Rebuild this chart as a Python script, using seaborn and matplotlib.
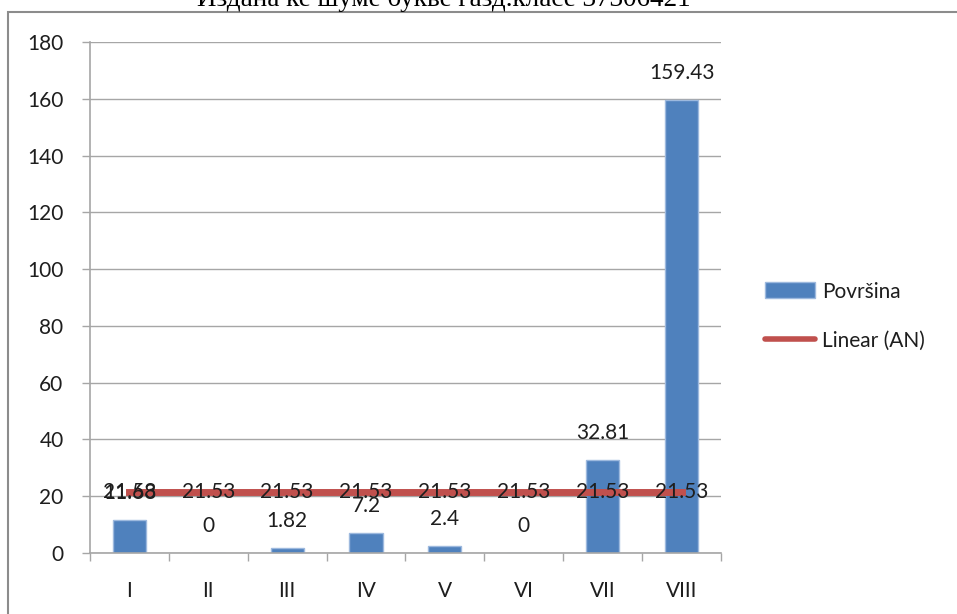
import matplotlib
matplotlib.use("Agg")
import matplotlib.pyplot as plt
from matplotlib.lines import Line2D
from matplotlib.patches import Patch, Rectangle
import seaborn as sns
import pandas as pd

# Area per management class and the linear trend of AN
categories = ["I", "II", "III", "IV", "V", "VI", "VII", "VIII"]
povrsina = [11.68, 0, 1.82, 7.2, 2.4, 0, 32.81, 159.43]
linear_an = [21.53, 21.53, 21.53, 21.53, 21.53, 21.53, 21.53, 21.53]
y_ticks = [0, 20, 40, 60, 80, 100, 120, 140, 160, 180]
title = "Издана ке шуме букве газд.класе 37306421"

sns.set_theme(style="white")
plt.rcParams["font.family"] = ["Lato", "DejaVu Sans"]

BLUE = "#4F81BD"
RED = "#C0504D"
GRID = "#A6A6A6"
TEXT = "#1E1E1E"
FS = 15

df = pd.DataFrame({"klasa": categories, "povrsina": povrsina})

fig = plt.figure(figsize=(9.57, 6.14), dpi=100)
ax = fig.add_axes([0.094, 0.0993, 0.6594, 0.8323])

sns.barplot(data=df, x="klasa", y="povrsina", color=BLUE, saturation=1,
            width=0.42, edgecolor="#9DB9DE", linewidth=1, ax=ax, zorder=2)

xs = list(range(len(categories)))
ax.plot(xs, linear_an, color=RED, lw=5, solid_capstyle="projecting", zorder=3)

# value labels for the bars
for x, v in zip(xs, povrsina):
    ax.annotate(f"{v:g}", (x, v), xytext=(0, 19.5), textcoords="offset points",
                ha="center", va="center", fontsize=FS, color=TEXT, zorder=4)
# value labels for the trend line
for x, v in zip(xs, linear_an):
    ax.annotate(f"{v:g}", (x, v), xytext=(0, 0), textcoords="offset points",
                ha="center", va="center", fontsize=FS, color=TEXT, zorder=4)

ax.set_xlim(-0.5, len(categories) - 0.5)
ax.set_ylim(0, 180)
ax.set_yticks(y_ticks)
ax.set_xlabel("")
ax.set_ylabel("")
ax.yaxis.grid(True, color=GRID, lw=1)
ax.set_axisbelow(True)

for side in ("top", "right"):
    ax.spines[side].set_visible(False)
for side in ("left", "bottom"):
    ax.spines[side].set_color(GRID)
    ax.spines[side].set_linewidth(1.2)

ax.tick_params(axis="y", which="major", left=True, length=6, width=1,
               color=GRID, labelsize=FS, labelcolor=TEXT, pad=13)
ax.tick_params(axis="x", which="major", bottom=False, labelsize=FS,
               labelcolor=TEXT, pad=14)
ax.set_xticks([i + 0.5 for i in range(-1, len(categories))], minor=True)
ax.tick_params(axis="x", which="minor", bottom=True, length=6, width=1,
               color=GRID)

handles = [Patch(facecolor=BLUE, edgecolor="#9DB9DE", label="Površina"),
           Line2D([0], [0], color=RED, lw=4, label="Linear (AN)")]
fig.legend(handles=handles, loc="center left", bbox_to_anchor=(0.799, 0.485),
           frameon=False, fontsize=FS, handlelength=2.4, handleheight=0.8,
           labelspacing=1.4, handletextpad=0.35, labelcolor=TEXT,
           borderpad=0, borderaxespad=0)

# outer chart frame
fig.patches.append(Rectangle((8 / 957, -0.1), 1.2, (614 - 12) / 614 + 0.1,
                             transform=fig.transFigure, fill=False,
                             edgecolor="#8C8C8C", lw=1.5))

fig.text(444 / 957, 1 - 6 / 614, title, ha="center", va="baseline",
         fontsize=19.5, family="Liberation Serif", color="black")

fig.savefig("out.png", dpi=100, facecolor="white")
